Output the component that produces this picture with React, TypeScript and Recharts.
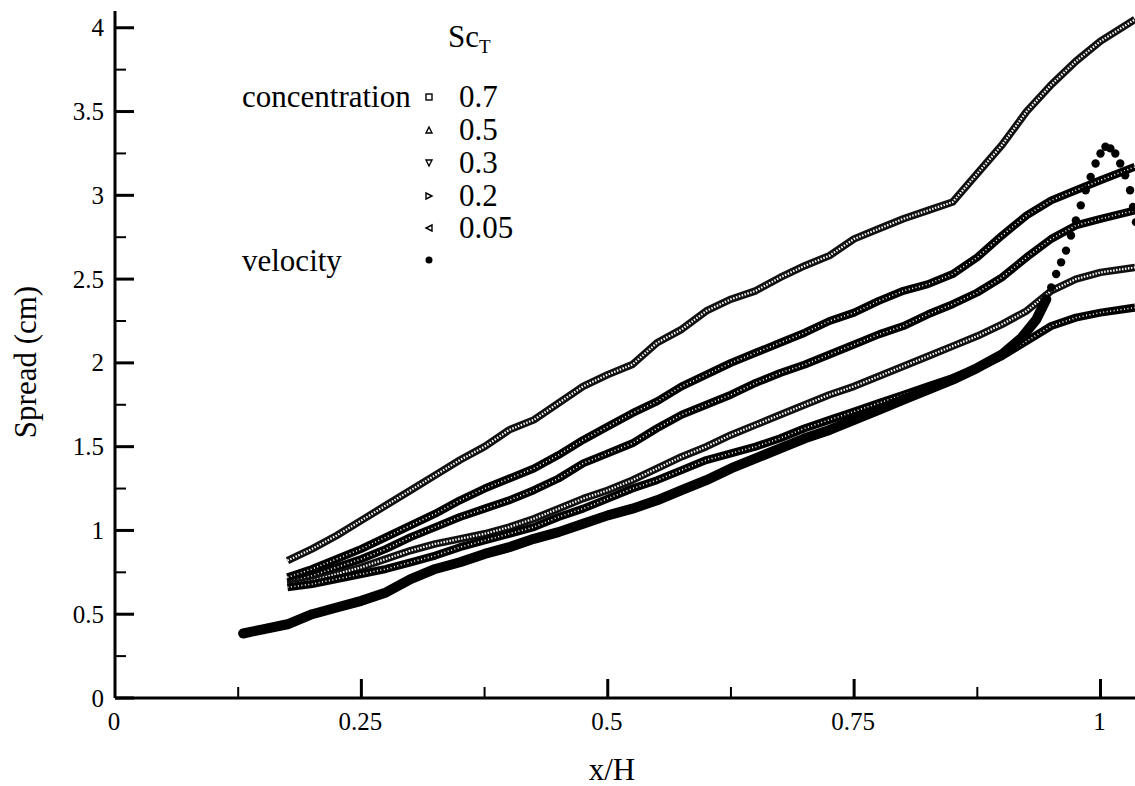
import React from 'react';
import { ComposedChart, Line, XAxis, YAxis } from 'recharts';

// x/H positions at which the concentration curves are read
const concX = [0.175, 0.2, 0.225, 0.25, 0.275, 0.3, 0.325, 0.35, 0.375, 0.4, 0.425, 0.45, 0.475, 0.5, 0.525, 0.55, 0.575, 0.6, 0.625, 0.65, 0.675, 0.7, 0.725, 0.75, 0.775, 0.8, 0.825, 0.85, 0.875, 0.9, 0.925, 0.95, 0.975, 1.0, 1.035];

// concentration spread (cm) for each turbulent Schmidt number Sc_T
const sc005 = [0.82, 0.89, 0.97, 1.06, 1.15, 1.24, 1.33, 1.42, 1.5, 1.6, 1.66, 1.76, 1.86, 1.93, 1.99, 2.12, 2.2, 2.31, 2.38, 2.43, 2.51, 2.58, 2.64, 2.74, 2.8, 2.86, 2.91, 2.96, 3.13, 3.3, 3.5, 3.66, 3.8, 3.92, 4.05];
const sc02 = [0.72, 0.77, 0.83, 0.89, 0.96, 1.03, 1.1, 1.18, 1.25, 1.31, 1.37, 1.45, 1.54, 1.62, 1.7, 1.77, 1.86, 1.93, 2.0, 2.06, 2.12, 2.18, 2.25, 2.3, 2.37, 2.43, 2.47, 2.53, 2.63, 2.76, 2.88, 2.97, 3.03, 3.09, 3.17];
const sc03 = [0.69, 0.73, 0.78, 0.83, 0.89, 0.96, 1.02, 1.08, 1.13, 1.18, 1.24, 1.31, 1.4, 1.46, 1.52, 1.61, 1.69, 1.75, 1.81, 1.88, 1.94, 1.99, 2.05, 2.11, 2.17, 2.22, 2.29, 2.35, 2.42, 2.51, 2.63, 2.74, 2.82, 2.86, 2.91];
const sc05 = [0.675, 0.7, 0.74, 0.78, 0.83, 0.88, 0.92, 0.95, 0.98, 1.02, 1.07, 1.13, 1.19, 1.24, 1.3, 1.37, 1.44, 1.5, 1.57, 1.63, 1.69, 1.75, 1.81, 1.86, 1.92, 1.98, 2.04, 2.1, 2.16, 2.23, 2.31, 2.43, 2.5, 2.54, 2.57];
const sc07 = [0.66, 0.68, 0.71, 0.74, 0.77, 0.81, 0.85, 0.9, 0.94, 0.98, 1.02, 1.08, 1.13, 1.19, 1.25, 1.3, 1.36, 1.42, 1.46, 1.5, 1.55, 1.61, 1.66, 1.71, 1.76, 1.81, 1.86, 1.91, 1.97, 2.04, 2.13, 2.22, 2.27, 2.3, 2.33];

// velocity spread: continuous band, then separated points near the end
const velX = [0.13, 0.15, 0.175, 0.2, 0.225, 0.25, 0.275, 0.3, 0.325, 0.35, 0.375, 0.4, 0.425, 0.45, 0.475, 0.5, 0.525, 0.55, 0.575, 0.6, 0.625, 0.65, 0.675, 0.7, 0.725, 0.75, 0.775, 0.8, 0.825, 0.85, 0.875, 0.9, 0.92, 0.935, 0.945];
const velY = [0.385, 0.41, 0.44, 0.5, 0.54, 0.58, 0.63, 0.71, 0.77, 0.81, 0.86, 0.9, 0.95, 0.99, 1.04, 1.09, 1.13, 1.18, 1.24, 1.3, 1.37, 1.43, 1.49, 1.55, 1.6, 1.66, 1.72, 1.78, 1.84, 1.9, 1.97, 2.05, 2.15, 2.26, 2.38];
const tailX = [0.95, 0.955, 0.96, 0.965, 0.97, 0.975, 0.98, 0.985, 0.99, 0.995, 1.0, 1.005, 1.01, 1.015, 1.02, 1.025, 1.03, 1.033, 1.036];
const tailY = [2.45, 2.53, 2.6, 2.67, 2.76, 2.85, 2.94, 3.03, 3.11, 3.19, 3.25, 3.29, 3.28, 3.25, 3.19, 3.12, 3.03, 2.93, 2.84];

const xTicks = [0, 0.125, 0.25, 0.375, 0.5, 0.625, 0.75, 0.875, 1];
const yTicks = [0, 0.25, 0.5, 0.75, 1, 1.25, 1.5, 1.75, 2, 2.25, 2.5, 2.75, 3, 3.25, 3.5, 3.75, 4];
const legendValues = ['0.7', '0.5', '0.3', '0.2', '0.05'];

const concData = concX.map((x, i) => ({ x, c005: sc005[i], c02: sc02[i], c03: sc03[i], c05: sc05[i], c07: sc07[i] }));
const velData = velX.map((x, i) => ({ x, v: velY[i] }));
const tailData = tailX.map((x, i) => ({ x, v: tailY[i] }));

const FONT = '"Liberation Serif", "Times New Roman", Times, serif';

const isMajor = (v: number, step: number) => Math.abs(v / step - Math.round(v / step)) < 1e-6;

const YTick = (props: any) => {
  const { x, y, payload } = props;
  const v = payload.value as number;
  const major = isMajor(v, 0.5);
  return (
    <g>
      <line x1={x} x2={x + (major ? 19 : 11)} y1={y} y2={y} stroke="#000" strokeWidth={major ? 3 : 2} />
      {major && (
        <text x={x - 11} y={y} textAnchor="end" dominantBaseline="central" fontFamily={FONT} fontSize={25} fill="#000">
          {String(v)}
        </text>
      )}
    </g>
  );
};

const XTick = (props: any) => {
  const { x, y, payload } = props;
  const v = payload.value as number;
  const major = isMajor(v, 0.25);
  return (
    <g>
      {v > 0 && <line x1={x} x2={x} y1={y} y2={y - (major ? 19 : 11)} stroke="#000" strokeWidth={major ? 3 : 2} />}
      {major && (
        <text x={x - 1} y={y + 32} textAnchor="middle" fontFamily={FONT} fontSize={25} fill="#000">
          {String(v)}
        </text>
      )}
    </g>
  );
};

const bandProps = { type: 'linear' as const, dot: false, activeDot: false, isAnimationActive: false, strokeLinejoin: 'round' as const };

const ConcBand = (key: string, light: boolean) => [
  <Line key={key + 'a'} data={concData} dataKey={key} stroke={light ? '#111' : '#000'} strokeWidth={light ? 7.5 : 8} {...bandProps} />,
  <Line key={key + 'b'} data={concData} dataKey={key} stroke="#fff" strokeWidth={light ? 2.2 : 1.6} strokeDasharray={light ? '1.5 1.5' : '1 2.5'} {...bandProps} />,
];

const Marker = ({ kind, cx, cy }: { kind: number; cx: number; cy: number }) => {
  const s = 3;
  const common = { fill: 'none', stroke: '#000', strokeWidth: 1.4 };
  switch (kind) {
    case 0:
      return <rect x={cx - s} y={cy - s} width={2 * s} height={2 * s} {...common} />;
    case 1:
      return <polygon points={`${cx},${cy - s} ${cx + s},${cy + s} ${cx - s},${cy + s}`} {...common} />;
    case 2:
      return <polygon points={`${cx - s},${cy - s} ${cx + s},${cy - s} ${cx},${cy + s}`} {...common} />;
    case 3:
      return <polygon points={`${cx - s},${cy - s} ${cx + s},${cy} ${cx - s},${cy + s}`} {...common} />;
    case 4:
      return <polygon points={`${cx + s},${cy - s} ${cx - s},${cy} ${cx + s},${cy + s}`} {...common} />;
    default:
      return <circle cx={cx} cy={cy} r={3.5} fill="#000" />;
  }
};

export default function App() {
  const rowBase = [107, 140, 173, 206, 238];
  return (
    <div style={{ position: 'absolute', left: 0, top: 0, width: 1135, height: 786, background: '#fff' }}>
      <ComposedChart width={1135} height={786} margin={{ top: 11, right: 0, left: 0, bottom: 0 }}>
        <XAxis
          type="number"
          dataKey="x"
          domain={[0, 1.035]}
          allowDataOverflow
          ticks={xTicks}
          tick={<XTick />}
          tickLine={false}
          tickSize={0}
          tickMargin={0}
          height={88}
          axisLine={{ stroke: '#000', strokeWidth: 3 }}
          interval={0}
        />
        <YAxis
          type="number"
          domain={[0, 4.1]}
          allowDataOverflow
          ticks={yTicks}
          tick={<YTick />}
          tickLine={false}
          tickSize={0}
          tickMargin={0}
          width={115}
          axisLine={{ stroke: '#000', strokeWidth: 3 }}
          interval={0}
        />
        {ConcBand('c005', true)}
        {ConcBand('c02', false)}
        {ConcBand('c03', false)}
        {ConcBand('c05', true)}
        {ConcBand('c07', false)}
        <Line data={velData} dataKey="v" stroke="#000" strokeWidth={10} strokeLinecap="round" {...bandProps} />
        <Line data={tailData} dataKey="v" stroke="none" type="linear" activeDot={false} isAnimationActive={false} dot={{ r: 4.2, fill: '#000', stroke: 'none' }} />
      </ComposedChart>
      <svg width={1135} height={786} style={{ position: 'absolute', left: 0, top: 0, pointerEvents: 'none' }}>
        <text transform="translate(25,362) rotate(-90)" textAnchor="middle" dominantBaseline="central" fontFamily={FONT} fontSize={31} fill="#000">
          Spread (cm)
        </text>
        <text x={612} y={780} textAnchor="middle" fontFamily={FONT} fontSize={31} fill="#000">
          x/H
        </text>
        <text x={448} y={47} fontFamily={FONT} fontSize={31} fill="#000">
          Sc<tspan fontSize={19} dy={6}>T</tspan>
        </text>
        <text x={242} y={107} fontFamily={FONT} fontSize={31} fill="#000">concentration</text>
        <text x={242} y={271} fontFamily={FONT} fontSize={31} fill="#000">velocity</text>
        {legendValues.map((t, i) => (
          <g key={t}>
            <Marker kind={i} cx={429} cy={rowBase[i] - 10} />
            <text x={459} y={rowBase[i]} fontFamily={FONT} fontSize={31} fill="#000">{t}</text>
          </g>
        ))}
        <Marker kind={5} cx={429} cy={260} />
      </svg>
    </div>
  );
}
